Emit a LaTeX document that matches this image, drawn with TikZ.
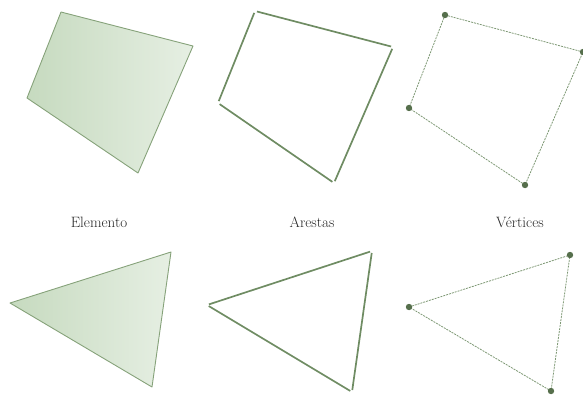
\documentclass[tikz,border=0pt]{standalone}
\begin{document}
\begin{tikzpicture}[x=1pt,y=-1pt,
  elem/.style={left color=fillL,right color=fillR,shading angle=90},
  elemout/.style={draw=elemline,line width=0.9pt,line join=round},
  edgeline/.style={draw=edgecol,line width=1.7pt,shorten <=2pt,shorten >=2pt},
  dashline/.style={draw=dashcol,line width=0.8pt,dash pattern=on 2pt off 1pt},
  vdot/.style={fill=dotcol},
  lbl/.style={font=\fontsize{15}{18}\selectfont,anchor=base,text=black!85}]
\definecolor{fillL}{HTML}{C6DABF}
\definecolor{fillR}{HTML}{E6EFE3}
\definecolor{elemline}{HTML}{86A27A}
\definecolor{edgecol}{HTML}{6F8C63}
\definecolor{dashcol}{HTML}{7E9874}
\definecolor{dotcol}{HTML}{566F4C}
\useasboundingbox (0,0) rectangle (583,394);
% quad 1
\coordinate (a1) at (61,12); \coordinate (a2) at (193,46);
\coordinate (a3) at (138,173); \coordinate (a4) at (27,98);
\shade[elem] (a1) -- (a2) -- (a3) -- (a4) -- cycle;
\draw[elemout] (a1) -- (a2) -- (a3) -- (a4) -- cycle;
% quad 2
\coordinate (b1) at (255,11); \coordinate (b2) at (393,47);
\coordinate (b3) at (334,183); \coordinate (b4) at (218,103);
\draw[edgeline] (b1) -- (b2);
\draw[edgeline] (b2) -- (b3);
\draw[edgeline] (b4) -- (b3);
\draw[edgeline] (b1) -- (b4);
% quad 3
\coordinate (c1) at (445,15); \coordinate (c2) at (583,52);
\coordinate (c3) at (525,185); \coordinate (c4) at (409,108);
\draw[dashline] (c1) -- (c2) -- (c3) -- (c4) -- cycle;
\foreach \p in {c1,c2,c3,c4} \fill[vdot] (\p) circle (3.2);
% labels
\node[lbl] (l1) at (99,227) {Elemento};
\node[lbl] (l2) at (312,227) {Arestas};
\node[lbl] (l3) at (520,227) {V\'ertices};
% triangle 1
\coordinate (d1) at (10,303); \coordinate (d2) at (171,252); \coordinate (d3) at (152,387);
\shade[elem] (d1) -- (d2) -- (d3) -- cycle;
\draw[elemout] (d1) -- (d2) -- (d3) -- cycle;
% triangle 2
\coordinate (e1) at (207,305); \coordinate (e2) at (372,251); \coordinate (e3) at (352,392);
\draw[edgeline] (e1) -- (e2);
\draw[edgeline] (e2) -- (e3);
\draw[edgeline] (e1) -- (e3);
% triangle 3
\coordinate (f1) at (409,307); \coordinate (f2) at (570,255); \coordinate (f3) at (551,391);
\draw[dashline] (f1) -- (f2) -- (f3) -- cycle;
\foreach \p in {f1,f2,f3} \fill[vdot] (\p) circle (3.2);
\end{tikzpicture}
\end{document}
